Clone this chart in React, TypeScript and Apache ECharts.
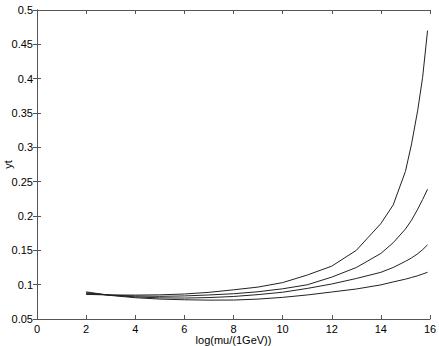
import React, { useEffect, useRef } from "react";
import * as echarts from "echarts";

const xValues = [2, 3, 4, 5, 6, 7, 8, 9, 10, 11, 12, 13, 14, 14.5, 15, 15.25, 15.5, 15.7, 15.9];
const curveA = [0.0858, 0.0850, 0.0848, 0.0852, 0.0864, 0.0888, 0.0925, 0.0965, 0.1030, 0.1140, 0.1270, 0.1500, 0.1890, 0.2160, 0.2650, 0.3050, 0.3540, 0.4020, 0.4700];
const curveB = [0.0870, 0.0848, 0.0835, 0.0830, 0.0836, 0.0850, 0.0868, 0.0897, 0.0940, 0.0998, 0.1110, 0.1250, 0.1455, 0.1610, 0.1810, 0.1940, 0.2100, 0.2240, 0.2390];
const curveC = [0.0882, 0.0846, 0.0822, 0.0808, 0.0805, 0.0812, 0.0828, 0.0855, 0.0890, 0.0945, 0.1010, 0.1090, 0.1180, 0.1250, 0.1340, 0.1390, 0.1450, 0.1510, 0.1580];
const curveD = [0.0895, 0.0843, 0.0810, 0.0790, 0.0780, 0.0775, 0.0776, 0.0790, 0.0815, 0.0850, 0.0893, 0.0937, 0.0997, 0.1040, 0.1080, 0.1105, 0.1130, 0.1155, 0.1180];

const xTicks = { min: 0, max: 16, interval: 2 };
const yTicks = { min: 0.05, max: 0.5, interval: 0.05 };

export default function App() {
  const ref = useRef<HTMLDivElement>(null);
  useEffect(() => {
    if (!ref.current) return;
    const chart = echarts.init(ref.current, null, { renderer: "svg" });
    const font = "'Liberation Sans', Arial, sans-serif";
    const axisLine = { show: true, lineStyle: { color: "#555", width: 1 } };
    const tick = { show: true, inside: true, length: 4, lineStyle: { color: "#555" } };
    const mk = (data: number[]) => ({
      type: "line",
      data: xValues.map((x, i) => [x, data[i]]),
      showSymbol: false,
      lineStyle: { color: "#222", width: 1 },
      xAxisIndex: 0,
      yAxisIndex: 0,
    });
    chart.setOption({
      animation: false,
      backgroundColor: "#fff",
      grid: { left: 37, top: 10, right: 9, bottom: 27, containLabel: false, outerBoundsMode: "none" },
      xAxis: [
        {
          type: "value",
          min: xTicks.min,
          max: xTicks.max,
          interval: xTicks.interval,
          position: "bottom",
          name: "log(mu/(1GeV))",
          nameLocation: "middle",
          nameGap: 15,
          nameMoveOverlap: false,
          nameTextStyle: { fontFamily: font, fontSize: 11, color: "#000" },
          axisLine,
          axisTick: tick,
          axisLabel: { fontFamily: font, fontSize: 11, color: "#000", margin: 4 },
          splitLine: { show: false },
        },
        {
          type: "value",
          min: xTicks.min,
          max: xTicks.max,
          interval: xTicks.interval,
          position: "top",
          axisLine,
          axisTick: tick,
          axisLabel: { show: false },
          splitLine: { show: false },
        },
      ],
      yAxis: [
        {
          type: "value",
          min: yTicks.min,
          max: yTicks.max,
          interval: yTicks.interval,
          position: "left",
          name: "yt",
          nameLocation: "middle",
          nameGap: 24,
          nameMoveOverlap: false,
          nameTextStyle: { fontFamily: font, fontSize: 11, color: "#000" },
          axisLine,
          axisTick: tick,
          axisLabel: {
            fontFamily: font,
            fontSize: 11,
            color: "#000",
            margin: 4,
            formatter: (v: number) => String(Math.round(v * 100) / 100),
          },
          splitLine: { show: false },
        },
        {
          type: "value",
          min: yTicks.min,
          max: yTicks.max,
          interval: yTicks.interval,
          position: "right",
          axisLine,
          axisTick: tick,
          axisLabel: { show: false },
          splitLine: { show: false },
        },
      ],
      series: [mk(curveA), mk(curveB), mk(curveC), mk(curveD)],
    });
    return () => chart.dispose();
  }, []);
  return (
    <div
      ref={ref}
      style={{ width: 439, height: 346, position: "absolute", left: 0, top: 0, background: "#fff" }}
    />
  );
}
